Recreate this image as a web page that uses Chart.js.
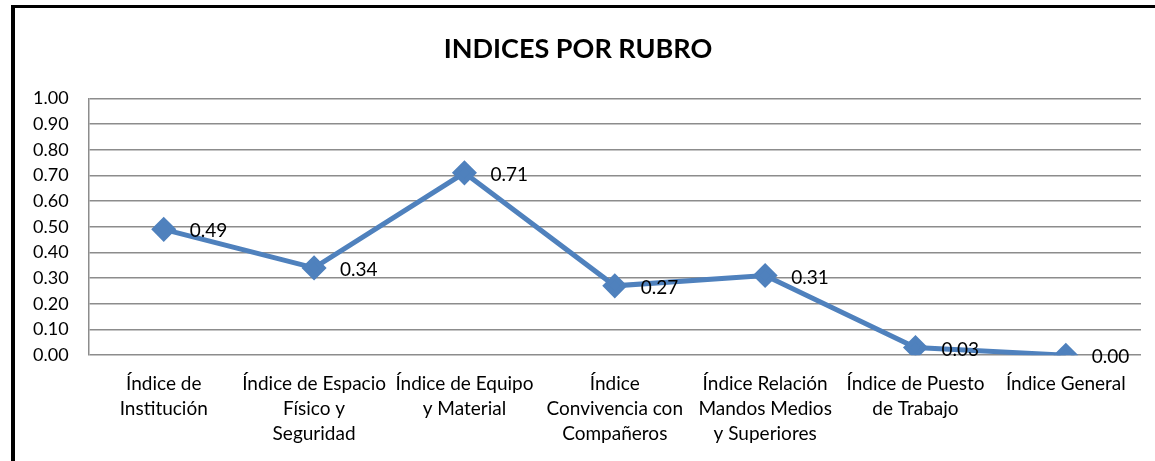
<!DOCTYPE html>
<html>
<head>
<meta charset="utf-8">
<script src="https://cdn.jsdelivr.net/npm/chart.js@4"></script>
<style>
  html, body { margin: 0; padding: 0; background: #fff; }
  #wrap { width: 1155px; height: 461px; position: relative; }
</style>
</head>
<body>
<div id="wrap"><canvas id="myChart" width="1155" height="461"></canvas></div>
<script>
const ctx = document.getElementById('myChart');

// datos
var categorias = [
  ['Índice de', 'Institución'],
  ['Índice de Espacio', 'Físico y', 'Seguridad'],
  ['Índice de Equipo', 'y Material'],
  ['Índice', 'Convivencia con', 'Compañeros'],
  ['Índice Relación', 'Mandos Medios', 'y Superiores'],
  ['Índice de Puesto', 'de Trabajo'],
  ['Índice General']
];
var indices = [0.49, 0.34, 0.71, 0.27, 0.31, 0.03, 0.00];
var ticksY = [0, 0.1, 0.2, 0.3, 0.4, 0.5, 0.6, 0.7, 0.8, 0.9, 1.0];

const fuente = 'Lato, "Open Sans", sans-serif';

// marco negro arriba e izquierda
const marco = {
  id: 'marco',
  beforeDraw(chart) {
    const c = chart.ctx;
    c.save();
    c.fillStyle = '#fff';
    c.fillRect(0, 0, chart.width, chart.height);
    c.fillStyle = '#000';
    c.fillRect(11, 5, chart.width - 11, 3);
    c.fillRect(11, 5, 4, chart.height - 5);
    c.restore();
  }
};

// etiquetas de valor a la derecha de cada punto
const etiquetas = {
  id: 'etiquetas',
  afterDatasetsDraw(chart) {
    const c = chart.ctx;
    const meta = chart.getDatasetMeta(0);
    c.save();
    c.font = '19px ' + fuente;
    c.fillStyle = '#000';
    c.textAlign = 'left';
    c.textBaseline = 'middle';
    meta.data.forEach((p, i) => {
      c.fillText(indices[i].toFixed(2), p.x + 26, p.y + 2);
    });
    c.restore();
  }
};

new Chart(ctx, {
  type: 'line',
  data: {
    labels: categorias,
    datasets: [{
      label: 'Índices',
      data: indices,
      borderColor: '#4F81BD',
      backgroundColor: '#4F81BD',
      borderWidth: 5,
      pointStyle: 'rectRot',
      pointRadius: 9,
      pointHoverRadius: 9,
      tension: 0
    }]
  },
  plugins: [marco, etiquetas],
  options: {
    responsive: false,
    animation: false,
    layout: { padding: { left: 13, right: 12, top: 0, bottom: 6 } },
    plugins: {
      legend: { display: false },
      tooltip: { enabled: false },
      title: {
        display: true,
        text: 'INDICES POR RUBRO',
        color: '#000',
        font: { family: fuente, size: 27, weight: 'bold' },
        padding: { top: 33, bottom: 33 }
      }
    },
    scales: {
      x: {
        offset: true,
        grid: { display: false, offset: true },
        border: { display: false },
        ticks: {
          color: '#000',
          maxRotation: 0,
          autoSkip: false,
          padding: 8,
          font: { family: fuente, size: 19, lineHeight: 1.33 }
        }
      },
      y: {
        min: 0,
        max: 1,
        afterBuildTicks(scale) {
          scale.ticks = ticksY.map(v => ({ value: v }));
        },
        grid: { color: '#8c8c8c', lineWidth: 1.5, drawTicks: false },
        border: { display: true, color: '#8c8c8c', width: 1.5 },
        ticks: {
          color: '#000',
          autoSkip: false,
          padding: 20,
          font: { family: fuente, size: 18 },
          callback: v => Number(v).toFixed(2)
        }
      }
    }
  }
});
</script>
</body>
</html>
